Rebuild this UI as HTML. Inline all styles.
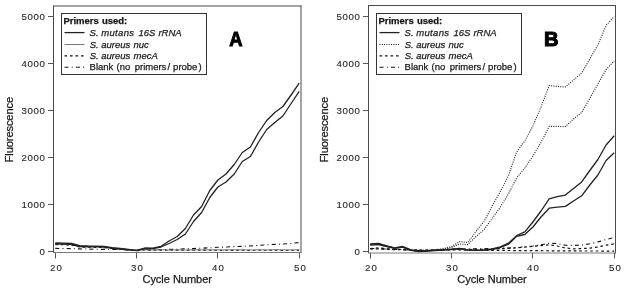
<!DOCTYPE html>
<html><head><meta charset="utf-8"><title>Fluorescence vs Cycle Number</title>
<style>
html,body{margin:0;padding:0;background:#fff;}
body{width:626px;height:292px;overflow:hidden;}
svg{display:block;will-change:transform;}
text{font-family:"Liberation Sans", sans-serif;fill:#1a1a1a;stroke:#1a1a1a;stroke-width:0.25px;}
.tk{font-size:9.7px;stroke-width:0.1px;fill:#262626;stroke:#262626;}
.ti{font-size:11px;}
.lh{font-size:9.5px;font-weight:bold;fill:#111;}
.lt{font-size:9.5px;}
.big{font-size:20.5px;font-weight:bold;fill:#000;stroke:#000;stroke-width:1.0px;}
.ax{stroke:#555;stroke-width:1;}
.frame{fill:none;stroke:#4a4a4a;stroke-width:1;stroke-linecap:butt;}
.frameb{fill:none;stroke:#7a7a7a;stroke-width:1;}
.leg{fill:none;stroke:#333;stroke-width:1;}
polyline,line{fill:none;stroke-linejoin:round;}
.s1{stroke:#222;stroke-width:1.3;}
.nucA{stroke:#777;stroke-width:1;}
.nucB{stroke:#1a1a1a;stroke-width:1.1;stroke-dasharray:1 1.3;}
.mec{stroke:#111;stroke-width:1.2;stroke-dasharray:2.6 2.9;}
.bl{stroke:#111;stroke-width:1.1;stroke-dasharray:4 3.2 1 3.2;}
</style></head>
<body>
<svg width="626" height="292" viewBox="0 0 626 292">
<rect width="626" height="292" fill="#fff"/>
<line x1="48.0" y1="251.5" x2="53.5" y2="251.5" class="ax"/>
<text x="45.0" y="254.9" class="tk" text-anchor="end">0</text>
<line x1="48.0" y1="204.5" x2="53.5" y2="204.5" class="ax"/>
<text x="45.0" y="207.9" class="tk" text-anchor="end" textLength="23.6">1000</text>
<line x1="48.0" y1="157.5" x2="53.5" y2="157.5" class="ax"/>
<text x="45.0" y="160.9" class="tk" text-anchor="end" textLength="23.6">2000</text>
<line x1="48.0" y1="110.5" x2="53.5" y2="110.5" class="ax"/>
<text x="45.0" y="113.9" class="tk" text-anchor="end" textLength="23.6">3000</text>
<line x1="48.0" y1="63.5" x2="53.5" y2="63.5" class="ax"/>
<text x="45.0" y="66.9" class="tk" text-anchor="end" textLength="23.6">4000</text>
<line x1="48.0" y1="16.5" x2="53.5" y2="16.5" class="ax"/>
<text x="45.0" y="19.9" class="tk" text-anchor="end" textLength="23.6">5000</text>
<line x1="55.5" y1="252.5" x2="55.5" y2="258.5" class="ax"/>
<text x="56.0" y="271.0" class="tk" text-anchor="middle" textLength="12.0">20</text>
<line x1="136.5" y1="252.5" x2="136.5" y2="258.5" class="ax"/>
<text x="137.0" y="271.0" class="tk" text-anchor="middle" textLength="12.0">30</text>
<line x1="217.5" y1="252.5" x2="217.5" y2="258.5" class="ax"/>
<text x="218.0" y="271.0" class="tk" text-anchor="middle" textLength="12.0">40</text>
<line x1="299.5" y1="252.5" x2="299.5" y2="258.5" class="ax"/>
<text x="300.0" y="271.0" class="tk" text-anchor="middle" textLength="12.0">50</text>
<path d="M53.5,252.5V5.5M53.0,6.0H301.5M301.0,5.5V253.0" class="frame"/>
<path d="M53.0,252.5H301.5" class="frameb"/>
<text x="177.2" y="283.3" class="ti" text-anchor="middle" textLength="69.5">Cycle Number</text>
<text transform="translate(13.1,129.6) rotate(-90)" class="ti" text-anchor="middle" textLength="65.6" style="font-size:11.2px">Fluorescence</text>
<polyline points="55.3,248.4 63.4,248.5 71.6,248.6 79.7,248.9 87.8,249.1 96.0,249.3 104.1,249.4 112.2,249.5 120.3,249.6 128.5,249.9 136.6,250.4 144.7,249.8 152.9,249.6 161.0,249.5 169.1,249.4 177.2,249.2 185.4,248.8 193.5,248.5 201.6,248.2 209.8,247.8 217.9,247.3 226.0,247.0 234.2,246.6 242.3,246.3 250.4,245.9 258.6,245.3 266.7,244.8 274.8,244.4 282.9,244.0 291.1,243.4 299.2,242.5" class="bl"/>
<polyline points="55.3,244.5 63.4,244.7 71.6,245.0 79.7,247.0 87.8,247.2 96.0,247.3 104.1,247.5 112.2,248.5 120.3,249.2 128.5,250.0 136.6,250.7 144.7,250.0 152.9,250.2 161.0,250.1 169.1,250.3 177.2,250.1 185.4,250.3 193.5,250.0 201.6,250.2 209.8,250.1 217.9,250.3 226.0,250.2 234.2,250.4 242.3,250.1 250.4,250.3 258.6,250.2 266.7,250.3 274.8,250.1 282.9,250.3 291.1,250.2 299.2,250.3" class="mec"/>
<polyline points="55.3,243.5 63.4,243.7 71.6,244.0 79.7,246.1 87.8,246.4 96.0,246.5 104.1,246.8 112.2,248.0 120.3,248.8 128.5,249.6 136.6,250.5 144.7,249.6 152.9,250.0 161.0,249.8 169.1,250.0 177.2,249.9 185.4,250.0 193.5,249.8 201.6,249.9 209.8,250.0 217.9,249.8 226.0,250.0 234.2,249.7 242.3,249.9 250.4,250.0 258.6,249.8 266.7,250.0 274.8,249.7 282.9,249.9 291.1,250.0 299.2,249.8" class="nucA"/>
<polyline points="55.3,243.0 63.4,243.2 71.6,243.5 79.7,245.6 87.8,246.0 96.0,246.1 104.1,246.4 112.2,247.6 120.3,248.5 128.5,249.4 136.6,250.4 144.7,248.0 152.9,248.2 161.0,246.3 169.1,241.0 177.2,236.5 185.4,228.5 193.5,215.0 201.6,206.5 209.8,190.5 217.9,180.0 226.0,174.0 234.2,164.5 242.3,152.5 250.4,147.0 258.6,132.5 266.7,120.5 274.8,112.5 282.9,106.5 291.1,95.0 299.2,83.2" class="s1"/>
<polyline points="55.3,244.0 63.4,244.2 71.6,244.5 79.7,246.5 87.8,246.8 96.0,246.9 104.1,247.2 112.2,248.3 120.3,249.0 128.5,249.8 136.6,250.6 144.7,248.6 152.9,248.6 161.0,247.0 169.1,243.5 177.2,239.5 185.4,234.0 193.5,221.5 201.6,212.5 209.8,197.5 217.9,187.0 226.0,182.0 234.2,174.0 242.3,161.5 250.4,156.5 258.6,142.0 266.7,129.5 274.8,122.5 282.9,116.0 291.1,103.5 299.2,91.4" class="s1"/>
<rect x="61.5" y="13.5" width="145" height="61" class="leg"/>
<text y="24.2" class="lh"><tspan x="63.4">Primers</tspan><tspan x="101.9">used:</tspan></text>
<line x1="64.5" y1="32.6" x2="84.5" y2="32.6" class="s1"/>
<text y="36.2" class="lt" font-style="italic"><tspan x="89.6">S.</tspan><tspan x="101.2" textLength="32.8">mutans</tspan><tspan x="138.4">16S</tspan><tspan x="158.4">rRNA</tspan></text>
<line x1="64.5" y1="44.5" x2="84.5" y2="44.5" class="nucA"/>
<text y="47.6" class="lt" font-style="italic"><tspan x="89.7">S.</tspan><tspan x="101.2">aureus</tspan><tspan x="133.5">nuc</tspan></text>
<line x1="64.5" y1="55.8" x2="84.5" y2="55.8" class="mec"/>
<text y="59.0" class="lt" font-style="italic"><tspan x="89.7">S.</tspan><tspan x="101.2">aureus</tspan><tspan x="133.5">mecA</tspan></text>
<line x1="64.5" y1="67.3" x2="84.5" y2="67.3" class="bl"/>
<text y="70.4" class="lt"><tspan x="89.6">Blank</tspan><tspan x="116.5">(no</tspan><tspan x="134.7">primers</tspan><tspan x="167.4">/</tspan><tspan x="173.1">probe</tspan><tspan x="198.5">)</tspan></text>
<text x="229.2" y="46.2" class="big" textLength="13.3" lengthAdjust="spacingAndGlyphs">A</text>
<line x1="363.0" y1="251.5" x2="368.5" y2="251.5" class="ax"/>
<text x="360.0" y="254.9" class="tk" text-anchor="end">0</text>
<line x1="363.0" y1="204.5" x2="368.5" y2="204.5" class="ax"/>
<text x="360.0" y="207.9" class="tk" text-anchor="end" textLength="23.6">1000</text>
<line x1="363.0" y1="157.5" x2="368.5" y2="157.5" class="ax"/>
<text x="360.0" y="160.9" class="tk" text-anchor="end" textLength="23.6">2000</text>
<line x1="363.0" y1="110.5" x2="368.5" y2="110.5" class="ax"/>
<text x="360.0" y="113.9" class="tk" text-anchor="end" textLength="23.6">3000</text>
<line x1="363.0" y1="63.5" x2="368.5" y2="63.5" class="ax"/>
<text x="360.0" y="66.9" class="tk" text-anchor="end" textLength="23.6">4000</text>
<line x1="363.0" y1="16.5" x2="368.5" y2="16.5" class="ax"/>
<text x="360.0" y="19.9" class="tk" text-anchor="end" textLength="23.6">5000</text>
<line x1="370.5" y1="253.0" x2="370.5" y2="258.5" class="ax"/>
<text x="371.0" y="271.0" class="tk" text-anchor="middle" textLength="12.0">20</text>
<line x1="451.5" y1="253.0" x2="451.5" y2="258.5" class="ax"/>
<text x="452.0" y="271.0" class="tk" text-anchor="middle" textLength="12.0">30</text>
<line x1="532.5" y1="253.0" x2="532.5" y2="258.5" class="ax"/>
<text x="533.0" y="271.0" class="tk" text-anchor="middle" textLength="12.0">40</text>
<line x1="614.5" y1="253.0" x2="614.5" y2="258.5" class="ax"/>
<text x="615.0" y="271.0" class="tk" text-anchor="middle" textLength="12.0">50</text>
<path d="M368.5,253.0V5.0M368.0,5.5H616.0M615.5,5.0V253.5" class="frame"/>
<path d="M368.0,253.0H616.0" class="frameb"/>
<text x="492.0" y="283.3" class="ti" text-anchor="middle" textLength="69.5">Cycle Number</text>
<text transform="translate(328.1,129.6) rotate(-90)" class="ti" text-anchor="middle" textLength="65.6" style="font-size:11.2px">Fluorescence</text>
<polyline points="370.3,248.5 378.4,248.6 386.6,249.0 394.7,249.4 402.8,249.6 410.9,250.0 419.1,250.4 427.2,250.3 435.3,250.1 443.5,249.8 451.6,249.4 459.7,249.0 467.9,248.9 476.0,248.8 484.1,248.7 492.2,248.5 500.4,248.3 508.5,248.0 516.6,247.6 524.8,246.8 532.9,246.0 541.0,244.8 549.2,243.2 557.3,243.6 565.4,245.2 573.5,245.4 581.7,245.1 589.8,243.8 597.9,241.9 606.1,239.5 614.2,237.4" class="bl"/>
<polyline points="370.3,248.6 378.4,247.8 386.6,248.8 394.7,249.3 402.8,249.4 410.9,249.8 419.1,250.2 427.2,250.1 435.3,249.9 443.5,249.6 451.6,249.3 459.7,249.0 467.9,249.5 476.0,249.4 484.1,249.2 492.2,249.0 500.4,248.6 508.5,248.3 516.6,247.9 524.8,247.2 532.9,246.4 541.0,245.6 549.2,244.8 557.3,246.0 565.4,248.0 573.5,248.8 581.7,248.6 589.8,248.1 597.9,247.0 606.1,245.2 614.2,243.8" class="mec"/>
<polyline points="370.3,249.0 378.4,249.0 386.6,249.4 394.7,249.6 402.8,249.8 410.9,250.0 419.1,250.3 427.2,250.3 435.3,250.2 443.5,250.1 451.6,250.0 459.7,249.9 467.9,250.1 476.0,250.3 484.1,250.4 492.2,250.3 500.4,250.4 508.5,250.5 516.6,250.6 524.8,250.6 532.9,250.7 541.0,250.7 549.2,250.8 557.3,250.8 565.4,250.9 573.5,250.9 581.7,251.0 589.8,251.0 597.9,251.0 606.1,251.1 614.2,251.1" class="mec"/>
<polyline points="370.3,244.2 378.4,243.8 386.6,245.8 394.7,247.8 402.8,246.7 410.9,250.0 419.1,251.2 427.2,250.6 435.3,249.8 443.5,248.6 451.6,246.6 459.7,241.6 467.9,242.6 476.0,231.3 484.1,221.5 492.2,206.0 500.4,191.5 508.5,175.5 516.6,152.0 524.8,141.0 532.9,126.0 541.0,107.0 549.2,85.6 557.3,86.4 565.4,87.0 573.5,80.0 581.7,73.0 589.8,59.0 597.9,45.0 606.1,25.5 614.2,16.5" class="nucB"/>
<polyline points="370.3,244.8 378.4,244.4 386.6,246.2 394.7,248.0 402.8,247.0 410.9,250.2 419.1,251.4 427.2,250.9 435.3,250.2 443.5,249.3 451.6,247.5 459.7,244.0 467.9,244.6 476.0,236.5 484.1,229.5 492.2,218.5 500.4,207.0 508.5,193.8 516.6,178.0 524.8,168.0 532.9,156.0 541.0,142.5 549.2,126.3 557.3,126.4 565.4,126.5 573.5,119.0 581.7,112.5 589.8,98.3 597.9,84.0 606.1,69.5 614.2,61.0" class="nucB"/>
<polyline points="370.3,244.0 378.4,243.5 386.6,245.8 394.7,247.8 402.8,246.5 410.9,249.9 419.1,251.3 427.2,250.8 435.3,250.2 443.5,249.7 451.6,249.2 459.7,248.3 467.9,249.8 476.0,250.2 484.1,250.0 492.2,249.0 500.4,246.8 508.5,243.2 516.6,235.6 524.8,231.9 532.9,222.0 541.0,211.0 549.2,198.8 557.3,196.6 565.4,195.1 573.5,188.5 581.7,181.9 589.8,170.5 597.9,159.5 606.1,145.0 614.2,135.8" class="s1"/>
<polyline points="370.3,245.0 378.4,244.6 386.6,246.5 394.7,248.3 402.8,247.2 410.9,250.3 419.1,251.6 427.2,251.2 435.3,250.6 443.5,250.0 451.6,249.6 459.7,248.9 467.9,250.1 476.0,250.4 484.1,250.2 492.2,249.5 500.4,247.5 508.5,244.2 516.6,236.4 524.8,234.5 532.9,227.0 541.0,217.0 549.2,208.2 557.3,207.2 565.4,206.4 573.5,201.0 581.7,195.8 589.8,185.0 597.9,175.0 606.1,160.5 614.2,152.7" class="s1"/>
<rect x="376.5" y="13.5" width="145" height="61" class="leg"/>
<text y="24.2" class="lh"><tspan x="378.4">Primers</tspan><tspan x="416.9">used:</tspan></text>
<line x1="379.5" y1="32.6" x2="399.5" y2="32.6" class="s1"/>
<text y="36.2" class="lt" font-style="italic"><tspan x="404.6">S.</tspan><tspan x="416.2" textLength="32.8">mutans</tspan><tspan x="453.4">16S</tspan><tspan x="473.4">rRNA</tspan></text>
<line x1="379.5" y1="44.5" x2="399.5" y2="44.5" class="nucB"/>
<text y="47.6" class="lt" font-style="italic"><tspan x="404.7">S.</tspan><tspan x="416.2">aureus</tspan><tspan x="448.5">nuc</tspan></text>
<line x1="379.5" y1="55.8" x2="399.5" y2="55.8" class="mec"/>
<text y="59.0" class="lt" font-style="italic"><tspan x="404.7">S.</tspan><tspan x="416.2">aureus</tspan><tspan x="448.5">mecA</tspan></text>
<line x1="379.5" y1="67.3" x2="399.5" y2="67.3" class="bl"/>
<text y="70.4" class="lt"><tspan x="404.6">Blank</tspan><tspan x="431.5">(no</tspan><tspan x="449.7">primers</tspan><tspan x="482.4">/</tspan><tspan x="488.1">probe</tspan><tspan x="513.5">)</tspan></text>
<text x="544.0" y="46.2" class="big" textLength="14.6" lengthAdjust="spacingAndGlyphs">B</text>
</svg>
</body></html>
